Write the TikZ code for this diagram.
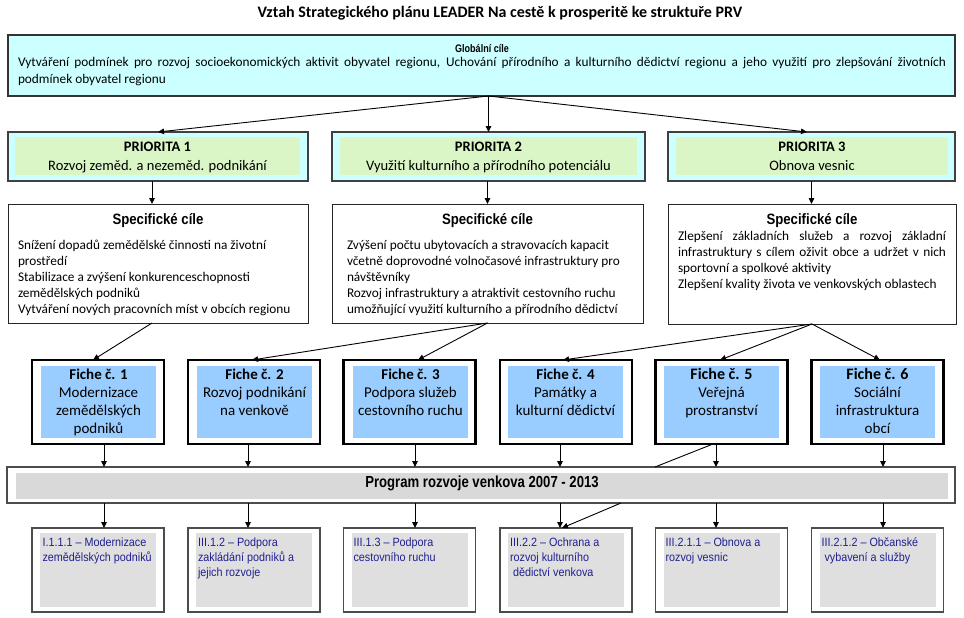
\documentclass[tikz,border=0pt]{standalone}
\usepackage{fontspec}
\setmainfont{Carlito}
\newfontfamily\nbfont{Liberation Sans}[FakeStretch=0.82]
\newfontfamily\stfont{Liberation Sans}[FakeStretch=0.88]
\newfontfamily\btfont{Liberation Sans}[FakeStretch=0.9]
\usetikzlibrary{arrows.meta}
\definecolor{cyanbg}{HTML}{CCFFFF}
\definecolor{greenbg}{HTML}{DAF5C6}
\definecolor{bluebg}{HTML}{99CCFF}
\definecolor{progbg}{HTML}{D9D9D9}
\definecolor{botbg}{HTML}{DFDFDF}
\definecolor{navy}{HTML}{202090}
\begin{document}
\begin{tikzpicture}[x=1pt,y=-1pt,
  every node/.style={inner sep=0pt, outer sep=0pt},
  globbox/.style={draw=black!80, line width=1.2pt, fill=cyanbg, minimum width=947pt, minimum height=61pt},
  priobox/.style={draw=black!75, line width=1.2pt, fill=cyanbg, minimum height=49pt},
  prioin/.style={fill=greenbg, minimum height=38pt},
  specbox/.style={draw=black!85, line width=1pt, fill=white},
  fichebox/.style={draw=black, line width=2.5pt, fill=white, minimum width=132pt, minimum height=84pt},
  fichein/.style={fill=bluebg, minimum width=115pt, minimum height=72pt},
  progbox/.style={draw=black!70, line width=1.5pt, fill=white, minimum width=948pt, minimum height=36pt},
  progin/.style={fill=progbg, minimum width=932pt, minimum height=26pt},
  botbox/.style={draw=black!70, line width=1.1pt, fill=white, minimum width=132pt, minimum height=84pt},
  botin/.style={fill=botbg, minimum width=116pt, minimum height=74pt},
  conn/.style={draw=black, line width=0.9pt},
  arr/.style={conn, -{Triangle[length=6pt,width=5.5pt]}},
  prtext/.style={anchor=north, align=center, font=\fontsize{14.5}{19}\selectfont},
  sttext/.style={anchor=base, font=\fontsize{15}{18}\stfont\bfseries},
  sbtext/.style={anchor=north west, align=left, font=\fontsize{13.3}{16}\selectfont},
  fitext/.style={anchor=north, align=center, font=\fontsize{15}{17.8}\selectfont},
  bttext/.style={anchor=north west, align=left, text=navy, font=\fontsize{12}{15}\btfont}
]
\useasboundingbox (0,0) rectangle (964,618);

% title
\node[anchor=base, font=\fontsize{16}{18}\selectfont\bfseries] (title) at (500,17.5)
  {Vztah Strategického plánu LEADER Na cestě k prosperitě ke struktuře PRV};

% global box
\node[globbox] (glob) at (481.5,65.5) {};
\node[anchor=base, font=\fontsize{11}{12}\nbfont\bfseries] (glabel) at (482,53) {Globální cíle};
\node[anchor=north west, align=left, font=\fontsize{13.3}{17.5}\selectfont] (gtext) at (18,54.25)
  {\strut\makebox[928pt][s]{Vytváření podmínek pro rozvoj socioekonomických aktivit obyvatel regionu, Uchování přírodního a kulturního dědictví regionu a jeho využití pro zlepšování životních}\\podmínek obyvatel regionu};

% priorities
\node[priobox, minimum width=300pt] (p1o) at (158,156.5) {};
\node[prioin, minimum width=285pt] (p1i) at (157.5,156) {};
\node[priobox, minimum width=313pt] (p2o) at (488.5,156.5) {};
\node[prioin, minimum width=297pt] (p2i) at (488.5,156) {};
\node[priobox, minimum width=287pt] (p3o) at (811.5,156.5) {};
\node[prioin, minimum width=272pt] (p3i) at (812,156) {};
\node[prtext] (p1t) at (157.5,137.7) {\strut\textbf{PRIORITA 1}\\Rozvoj zeměd. a nezeměd. podnikání};
\node[prtext] (p2t) at (488.5,137.7) {\strut\textbf{PRIORITA 2}\\Využití kulturního a přírodního potenciálu};
\node[prtext] (p3t) at (812,137.7) {\strut\textbf{PRIORITA 3}\\Obnova vesnic};

% specific goals
\node[specbox, minimum width=300pt, minimum height=119pt] (s1) at (158,263.5) {};
\node[specbox, minimum width=311pt, minimum height=119pt] (s2) at (487.5,263.5) {};
\node[specbox, minimum width=288pt, minimum height=120pt] (s3) at (812,264) {};
\node[sttext] (s1t) at (158,224) {Specifické cíle};
\node[sttext] (s2t) at (487.5,224) {Specifické cíle};
\node[sttext] (s3t) at (812,224) {Specifické cíle};
\node[sbtext] (s1b) at (18,237.8) {\strut Snížení dopadů zemědělské činnosti na životní\\prostředí\\Stabilizace a zvýšení konkurenceschopnosti\\zemědělských podniků\\Vytváření nových pracovních míst v obcích regionu};
\node[sbtext] (s2b) at (347,237.8) {\strut Zvýšení počtu ubytovacích a stravovacích kapacit\\včetně doprovodné volnočasové infrastruktury pro\\návštěvníky\\Rozvoj infrastruktury a atraktivit cestovního ruchu\\umožňující využití kulturního a přírodního dědictví};
\node[sbtext] (s3b) at (678,229.3) {\strut\makebox[268pt][s]{Zlepšení základních služeb a rozvoj základní}\\\makebox[268pt][s]{infrastruktury s cílem oživit obce a udržet v nich}\\sportovní a spolkové aktivity\\Zlepšení kvality života ve venkovských oblastech};

% fiches
\node[fichebox] (f1o) at (98,402) {};
\node[fichein] (f1i) at (98.5,402) {};
\node[fichebox] (f2o) at (254,402) {};
\node[fichein] (f2i) at (254.5,402) {};
\node[fichebox] (f3o) at (409.5,402) {};
\node[fichein] (f3i) at (410.5,402) {};
\node[fichebox] (f4o) at (566,402) {};
\node[fichein] (f4i) at (565.5,402) {};
\node[fichebox] (f5o) at (721.5,402) {};
\node[fichein] (f5i) at (721.5,402) {};
\node[fichebox] (f6o) at (877.5,402) {};
\node[fichein] (f6i) at (877.5,402) {};
\node[fitext] (f1t) at (98.5,367.5) {\strut\textbf{Fiche č. 1}\\Modernizace\\zemědělských\\podniků};
\node[fitext] (f2t) at (254.5,367.5) {\strut\textbf{Fiche č. 2}\\Rozvoj podnikání\\na venkově};
\node[fitext] (f3t) at (410.5,367.5) {\strut\textbf{Fiche č. 3}\\Podpora služeb\\cestovního ruchu};
\node[fitext] (f4t) at (565.5,367.5) {\strut\textbf{Fiche č. 4}\\Památky a\\kulturní dědictví};
\node[fitext] (f5t) at (721.5,367.5) {\strut{\fontsize{16}{17.8}\selectfont\textbf{Fiche č. 5}}\\Veřejná\\prostranství};
\node[fitext] (f6t) at (877.5,367.5) {\strut{\fontsize{16}{17.8}\selectfont\textbf{Fiche č. 6}}\\Sociální\\infrastruktura\\obcí};

% program
\node[progbox] (prog) at (481,485) {};
\node[progin] (progi) at (482,486) {};
\node[anchor=base, font=\fontsize{16}{18}\nbfont\bfseries] (progt) at (482,487.7) {Program rozvoje venkova 2007 - 2013};

% bottom measures
\node[botbox] (b1o) at (98,570) {};
\node[botin] (b1i) at (98,570) {};
\node[botbox] (b2o) at (254,570) {};
\node[botin] (b2i) at (254,570) {};
\node[botbox] (b3o) at (409.5,570) {};
\node[botin] (b3i) at (409.5,570) {};
\node[botbox] (b4o) at (566,570) {};
\node[botin] (b4i) at (566,570) {};
\node[botbox] (b5o) at (721.5,570) {};
\node[botin] (b5i) at (721.5,570) {};
\node[botbox] (b6o) at (877.5,570) {};
\node[botin] (b6i) at (877.5,570) {};
\node[bttext] (b1t) at (42.5,535.5) {\strut I.1.1.1 – Modernizace\\zemědělských podniků};
\node[bttext] (b2t) at (198,535.5) {\strut III.1.2 – Podpora\\zakládání podniků a\\jejich rozvoje};
\node[bttext] (b3t) at (353.5,535.5) {\strut III.1.3 – Podpora\\cestovního ruchu};
\node[bttext] (b4t) at (510,535.5) {\strut III.2.2 – Ochrana a\\rozvoj kulturního\\\hspace*{3pt}dědictví venkova};
\node[bttext] (b5t) at (665.5,535.5) {\strut III.2.1.1 – Obnova a\\rozvoj vesnic};
\node[bttext] (b6t) at (821.5,535.5) {\strut III.2.1.2 – Občanské\\\hspace*{3pt}vybavení a služby};

% connectors: global -> priorities
\draw[arr] (glob.south -| p2o.north) -- (p1o.north);
\draw[arr] (glob.south -| p2o.north) -- (p2o.north);
\draw[arr] (glob.south -| p2o.north) -- ([xshift=-4.5pt]p3o.north);
% priorities -> specific
\draw[arr] ([xshift=-6pt]p1o.south) -- ([xshift=-6pt]s1.north);
\draw[arr] ([xshift=-1pt]p2o.south) -- (s2.north);
\draw[arr] (p3o.south) -- (p3o.south |- s3.north);
% specific -> fiches
\draw[arr] ([xshift=-6pt]s1.south) -- ([xshift=-5pt]f1o.north);
\draw[arr] (s2.south) -- ([xshift=-2pt]f2o.north);
\draw[arr] (s2.south) -- ([xshift=8.5pt]f3o.north);
\draw[arr] (s3.south) -- ([xshift=-3pt]f4o.north);
\draw[arr] (s3.south) -- ([xshift=-1.5pt]f5o.north);
\draw[arr] (s3.south) -- ([xshift=2.5pt]f6o.north);
% fiches -> program
\draw[arr] ([xshift=6pt]f1o.south) -- ([xshift=6pt]f1o.south |- prog.north);
\draw[arr] ([xshift=-6pt]f2o.south) -- ([xshift=-6pt]f2o.south |- prog.north);
\draw[arr] ([xshift=5.5pt]f3o.south) -- ([xshift=5.5pt]f3o.south |- prog.north);
\draw[arr] ([xshift=-6pt]f4o.south) -- ([xshift=-6pt]f4o.south |- prog.north);
\draw[arr] ([xshift=-5.5pt]f5o.south) -- ([xshift=-5.5pt]f5o.south |- prog.north);
\draw[arr] ([xshift=5.5pt]f6o.south) -- ([xshift=5.5pt]f6o.south |- prog.north);
% program -> measures
\draw[arr] ([xshift=6pt]b1o.north |- prog.south) -- ([xshift=6pt]b1o.north);
\draw[arr] ([xshift=-6pt]b2o.north |- prog.south) -- ([xshift=-6pt]b2o.north);
\draw[arr] ([xshift=5.5pt]b3o.north |- prog.south) -- ([xshift=5.5pt]b3o.north);
\draw[arr] ([xshift=-6pt]b4o.north |- prog.south) -- ([xshift=-6pt]b4o.north);
\draw[arr] ([xshift=-5.5pt]b5o.north |- prog.south) -- ([xshift=-5.5pt]b5o.north);
\draw[arr] ([xshift=5.5pt]b6o.north |- prog.south) -- ([xshift=5.5pt]b6o.north);
% fiche 5 -> measure III.2.2
\coordinate (pa) at (655,467);
\coordinate (pb) at (621,503);
\draw[conn] ([xshift=-8.5pt]f5o.south) -- (pa);
\draw[arr] (pb) -- ([xshift=-4pt]b4o.north);
\end{tikzpicture}
\end{document}
